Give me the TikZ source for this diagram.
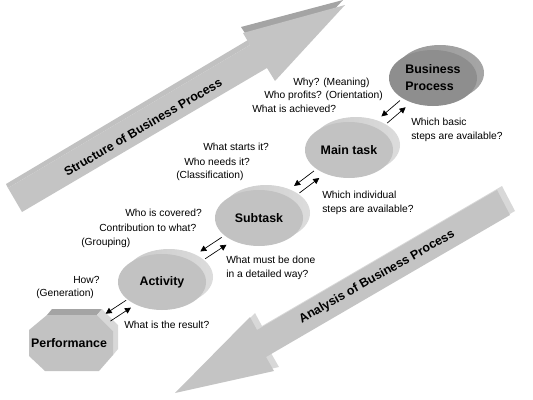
\documentclass[tikz,border=0pt]{standalone}
\usepackage{fontspec}
\setmainfont{Liberation Sans}
\usetikzlibrary{shapes.geometric,arrows.meta,calc}
\definecolor{faceGray}{HTML}{C2C2C2}
\definecolor{darkFace}{HTML}{8E8E8E}
\definecolor{arrowGray}{HTML}{C4C4C4}
\definecolor{arrowTop}{HTML}{A4A4A4}
\definecolor{arrowSide}{HTML}{D8D8D8}
\definecolor{rimLight}{HTML}{CACACA}
\definecolor{rimDark}{HTML}{9A9A9A}
\definecolor{rimSide}{HTML}{DCDCDC}

\begin{document}
\begin{tikzpicture}
[x=0.75pt,y=-0.75pt,
  diskDecorate/.style={shape=ellipse,minimum width=66pt,minimum height=42pt,inner sep=0pt,
    fill=faceGray,align=left,font=\fontsize{9.3}{12.75}\selectfont\bfseries},
  textDecorate/.style={anchor=west,inner sep=0pt,align=left,font=\fontsize{7.7}{10.5}\selectfont},
  titleDecorate/.style={inner sep=0pt,font=\fontsize{9.3}{11}\selectfont\bfseries},
  pairDecorate/.style={-{Triangle[length=4.5pt,width=4.5pt]},line width=0.5pt}]
\useasboundingbox (0,0) rectangle (533,400);

%% big arrows
\fill[arrowTop] (241,27) -- (343,0) -- (273,76) -- cycle;
\fill[arrowGray!90!arrowTop] (6,184) -- (248,40) -- (250,45) -- (8,188) -- cycle;
\fill[arrowGray] (8,188) -- (250,45) -- (243,33) -- (345,5)
  -- (275,81) -- (267,68) -- (22,212) -- cycle;
\foreach \dx/\dy/\col in {5/-4/arrowSide, 0/0/arrowGray} {
  \fill[\col,shift={(\dx,\dy)}] (497,190) -- (257,330) -- (250,317) -- (175,393)
    -- (274,371) -- (266,357) -- (510,215) -- cycle;
}
\node[titleDecorate,rotate=30.5] (structTitle) at (143,127) {Structure of Business Process};
\node[titleDecorate,rotate=29.5] (analysisTitle) at (377,277) {Analysis of Business Process};

%% disks
\shade[left color=gray!80,middle color=gray!100,right color=gray!70] (440,73) ellipse [x radius=44,y radius=28];
\node[diskDecorate,fill=darkFace] (bp) at (433,78) {Business\\Process};
\foreach \nodename/\x/\y/\txt in {main/349/150/Main task, sub/259/218/Subtask, act/162/282/Activity} {
  \shade[left color=rimLight,middle color=rimDark,right color=rimSide] (\x+7,\y-5) ellipse [x radius=44,y radius=28];
  \node[diskDecorate] (\nodename) at (\x,\y) {\txt};
}

%% octagon
\fill[arrowTop] (47,315) -- (97,315) -- (102,309) -- (52,309) -- cycle;
\fill[arrowSide] (97,315) -- (102,309) -- (118,325) -- (118,349) -- (113,355) -- (113,331) -- cycle;
\fill[faceGray] (47,315) -- (97,315) -- (113,331) -- (113,355) -- (99,371) -- (45,371)
  -- (29,356) -- (29,330) -- cycle;
\node[inner sep=0pt,minimum width=63pt,minimum height=42pt,font=\fontsize{9.3}{11}\selectfont\bfseries]
  (perf) at (69,343) {Performance};

%% double arrows
\foreach \upper/\lower in {bp/main, main/sub, sub/act, act/perf} {
  \draw[pairDecorate] ($(\upper)!.36!(\lower)!3.3pt!-90:(\lower)$) -- ($(\upper)!.58!(\lower)!3.3pt!-90:(\lower)$);
  \draw[pairDecorate] ($(\upper)!.58!(\lower)!3.3pt!90:(\lower)$) -- ($(\upper)!.36!(\lower)!3.3pt!90:(\lower)$);
}

%% questions
\foreach \x/\y/\txt [count=\i] in {293/83/Why? (Meaning), 264/96/Who profits? (Orientation),
    252/109/What is achieved?, 411/129.5/{Which basic\\steps are available?},
    203/147/What starts it?, 184/162/Who needs it?, 176/176/(Classification),
    322/203/{Which individual\\steps are available?}, 125/213/Who is covered?,
    99/228/Contribution to what?, 81/243/(Grouping), 226/267.5/{What must be done\\in a detailed way?},
    73/280/How?, 36/294/(Generation), 124/325/What is the result?} {
  \node[textDecorate] (q\i) at (\x,\y) {\txt};
}
\end{tikzpicture}
\end{document}
